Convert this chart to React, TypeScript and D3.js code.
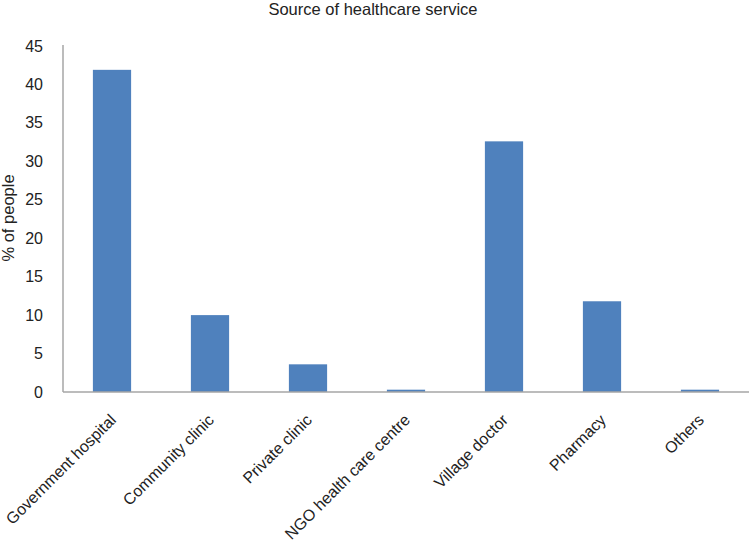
import React from "react";
import * as d3 from "d3";

const categories = [
  "Government hospital",
  "Community clinic",
  "Private clinic",
  "NGO health care centre",
  "Village doctor",
  "Pharmacy",
  "Others",
];
const values = [41.9, 10.0, 3.6, 0.3, 32.6, 11.8, 0.3];
const yTicks = [0, 5, 10, 15, 20, 25, 30, 35, 40, 45];

const W = 750;
const H = 543;
const left = 63;
const right = 749;
const top = 46;
const bottom = 392;

export default function App() {
  const x = d3.scaleBand<string>().domain(categories).range([left, right]).paddingInner(0.61).paddingOuter(0.305);
  const y = d3.scaleLinear().domain([0, 45]).range([bottom, top]);
  const font = "'Liberation Sans', Arial, Helvetica, sans-serif";
  return (
    <svg width={W} height={H} style={{ position: "absolute", left: 0, top: 0, background: "#fff" }} fontFamily={font}>
      <text x={373} y={15} textAnchor="middle" fontSize={16.5} fill="#222">
        Source of healthcare service
      </text>
      <text transform={`translate(14,${218}) rotate(-90)`} textAnchor="middle" fontSize={16.5} fill="#222">
        % of people
      </text>
      {yTicks.map((t) => (
        <text key={t} x={43} y={y(t)} dy="0.35em" textAnchor="end" fontSize={16} fill="#222">
          {t}
        </text>
      ))}
      {categories.map((c, i) => (
        <rect key={c} x={x(c)} y={y(values[i])} width={x.bandwidth()} height={y(0) - y(values[i])} fill="#4f81bd" />
      ))}
      <line x1={left} x2={left} y1={top - 1} y2={bottom} stroke="#a6a6a6" strokeWidth={1.5} />
      <line x1={left} x2={right} y1={bottom} y2={bottom} stroke="#a6a6a6" strokeWidth={1.5} />
      {categories.map((c) => (
        <text
          key={c}
          transform={`translate(${(x(c) as number) + x.bandwidth() / 2 + 5},${421}) rotate(-45)`}
          textAnchor="end"
          fontSize={16}
          fill="#222"
        >
          {c}
        </text>
      ))}
    </svg>
  );
}
